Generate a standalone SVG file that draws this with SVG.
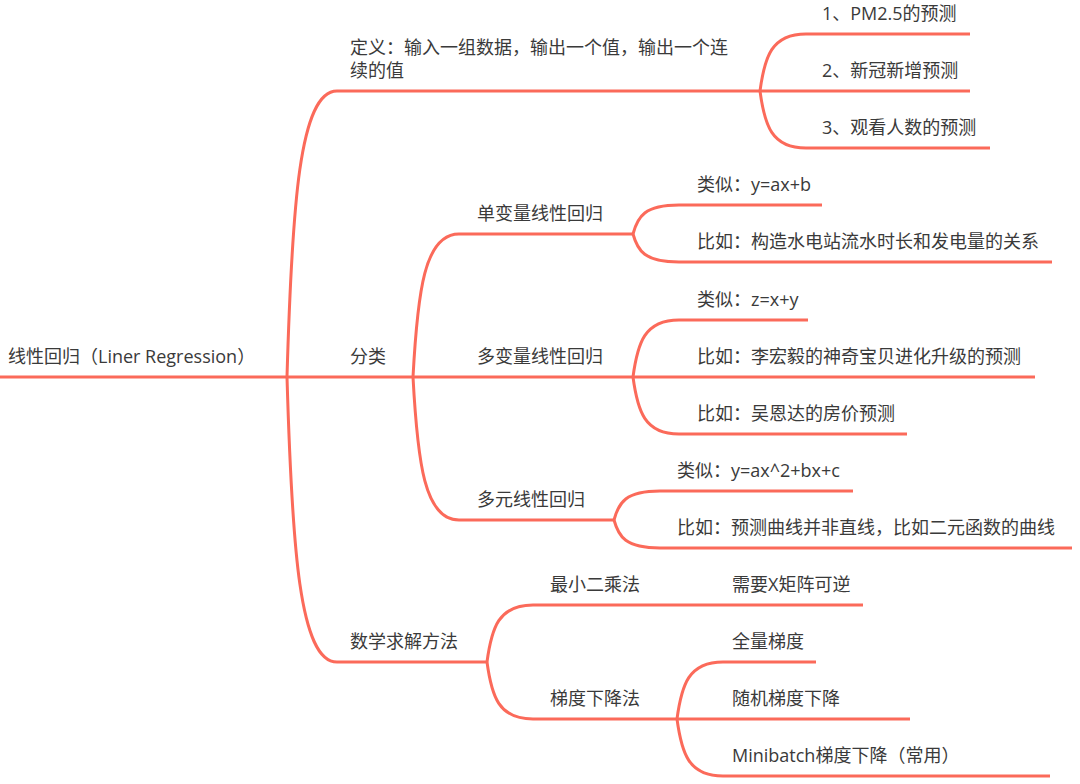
<svg xmlns="http://www.w3.org/2000/svg" width="1080" height="784" viewBox="0 0 1080 784">
<style>
.c{fill:none;stroke:#FB6A5A;stroke-width:3;stroke-linecap:butt}
text{font-family:"Open Sans","Noto Sans CJK SC",sans-serif;font-size:18px;fill:#3a3a3a}
</style>
<rect width="1080" height="784" fill="#ffffff"/>
<g id="connectors">
<path class="c" d="M0,377 L287,377"/>
<path class="c" d="M287,377 C292,205.4 299.5,91 337,91 L760,91"/>
<path class="c" d="M287,377 L413,377"/>
<path class="c" d="M287,377 C292,548 299.5,662 337,662 L487,662"/>
<path class="c" d="M760,91 C764.6,56.8 771.5,34 806,34 L970,34"/>
<path class="c" d="M760,91 L970,91"/>
<path class="c" d="M760,91 C764.6,125.2 771.5,148 806,148 L990,148"/>
<path class="c" d="M413,377 C417.6,291.2 424.5,234 459,234 L633,234"/>
<path class="c" d="M413,377 L633,377"/>
<path class="c" d="M413,377 C417.6,462.8 424.5,520 459,520 L614,520"/>
<path class="c" d="M633,234 C637.6,216.6 644.5,205 679,205 L822,205"/>
<path class="c" d="M633,234 C637.6,250.8 644.5,262 679,262 L1052,262"/>
<path class="c" d="M633,377 C637.6,342.8 644.5,320 679,320 L808,320"/>
<path class="c" d="M633,377 L1035,377"/>
<path class="c" d="M633,377 C637.6,411.2 644.5,434 679,434 L907,434"/>
<path class="c" d="M614,520 C618.6,502.6 625.5,491 660,491 L853,491"/>
<path class="c" d="M614,520 C618.6,536.8 625.5,548 660,548 L1072,548"/>
<path class="c" d="M487,662 C491.6,627.8 498.5,605 533,605 L863,605"/>
<path class="c" d="M487,662 C491.6,696.2 498.5,719 533,719 L677,719"/>
<path class="c" d="M677,719 C681.6,684.8 688.5,662 723,662 L816,662"/>
<path class="c" d="M677,719 L910,719"/>
<path class="c" d="M677,719 C681.6,753.2 688.5,776 723,776 L1050,776"/>
</g>
<g id="root"><text x="8" y="363">线性回归（Liner Regression）</text></g>
<g id="def"><text x="350" y="54">定义：输入一组数据，输出一个值，输出一个连</text><text x="350" y="77">续的值</text></g>
<g id="def-1"><text x="822" y="20">1、PM2.5的预测</text></g>
<g id="def-2"><text x="822" y="77">2、新冠新增预测</text></g>
<g id="def-3"><text x="822" y="134">3、观看人数的预测</text></g>
<g id="cls"><text x="350" y="363">分类</text></g>
<g id="cls-1"><text x="477" y="220">单变量线性回归</text></g>
<g id="cls-1-a"><text x="697" y="191">类似：y=ax+b</text></g>
<g id="cls-1-b"><text x="697" y="248">比如：构造水电站流水时长和发电量的关系</text></g>
<g id="cls-2"><text x="477" y="363">多变量线性回归</text></g>
<g id="cls-2-a"><text x="697" y="306">类似：z=x+y</text></g>
<g id="cls-2-b"><text x="697" y="363">比如：李宏毅的神奇宝贝进化升级的预测</text></g>
<g id="cls-2-c"><text x="697" y="420">比如：吴恩达的房价预测</text></g>
<g id="cls-3"><text x="477" y="506">多元线性回归</text></g>
<g id="cls-3-a"><text x="677" y="477">类似：y=ax^2+bx+c</text></g>
<g id="cls-3-b"><text x="677" y="534">比如：预测曲线并非直线，比如二元函数的曲线</text></g>
<g id="math"><text x="350" y="648">数学求解方法</text></g>
<g id="math-1"><text x="550" y="591">最小二乘法</text></g>
<g id="math-1-a"><text x="732" y="591">需要X矩阵可逆</text></g>
<g id="math-2"><text x="550" y="705">梯度下降法</text></g>
<g id="math-2-a"><text x="732" y="648">全量梯度</text></g>
<g id="math-2-b"><text x="732" y="705">随机梯度下降</text></g>
<g id="math-2-c"><text x="732" y="762">Minibatch梯度下降（常用）</text></g>
</svg>
